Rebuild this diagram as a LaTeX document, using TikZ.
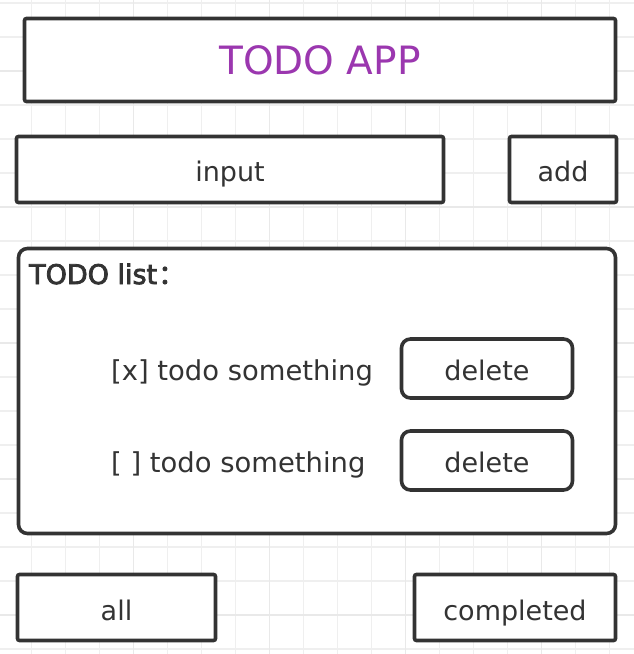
\documentclass[tikz,border=0pt]{standalone}
\usepackage{fontspec}
\setmainfont{DejaVu Sans}
\newfontfamily\medfont[FakeBold=3]{DejaVu Sans}
\newfontfamily\medcjk[FakeBold=3]{Noto Sans CJK SC}
\definecolor{linec}{HTML}{333333}
\definecolor{textc}{HTML}{333333}
\definecolor{titlec}{HTML}{9B37AF}
\definecolor{gridminor}{HTML}{EFEFEF}
\definecolor{gridmajor}{HTML}{E9E9E9}
\begin{document}
\begin{tikzpicture}[x=1pt,y=-1pt,
  box/.style={draw=linec, line width=3.6pt, rounded corners=2pt, inner sep=0pt,
    text depth=0pt, text height=23pt, text=textc, font=\fontsize{27}{27}\selectfont},
  roundbox/.style={box, rounded corners=9pt},
  label/.style={inner sep=0pt, text=textc, font=\fontsize{27}{27}\selectfont, anchor=base west},
  gminor/.style={draw=gridminor, line width=1.3pt},
  gmajor/.style={draw=gridmajor, line width=1.3pt}]
\useasboundingbox (0,0) rectangle (634,654);
\fill[white] (0,0) rectangle (634,654);
% grid
\foreach \k in {1,...,18} {\draw[gminor] ({-2.5+34*\k},0) -- ({-2.5+34*\k},654);}
\foreach \k in {0,...,19} {\draw[gminor] (0,{3+34*\k}) -- (634,{3+34*\k});}
\foreach \k in {4,8,12,16} {\draw[gmajor] ({-2.5+34*\k},0) -- ({-2.5+34*\k},654);}
\foreach \k in {2,6,10,14,18} {\draw[gmajor] (0,{3+34*\k}) -- (634,{3+34*\k});}
% boxes
\node[box, fill=white, minimum width=591pt, minimum height=83pt, text height=28pt,
  text=titlec, font=\fontsize{39}{39}\selectfont] (title) at (320,60) {TODO APP};
\node[box, fill=white, minimum width=427pt, minimum height=66pt] (input) at (230,169.5) {input};
\node[box, fill=white, minimum width=107pt, minimum height=66pt] (add) at (563,169.5) {add};
\node[roundbox, fill=white, minimum width=597pt, minimum height=285pt] (list) at (317,391) {};
\node[label, font=\fontsize{27}{27}\medfont] (listlabel) at (29,284) {TODO list\hspace{1pt}{\medcjk ：}};
\node[label, font=\fontsize{27.4}{27}\selectfont] (item1) at (111,380) {[x] todo something};
\node[roundbox, fill=white, minimum width=171pt, minimum height=59pt] (del1) at (487,368.5) {delete};
\node[label, font=\fontsize{27.4}{27}\selectfont] (item2) at (111,472) {[ ] todo something};
\node[roundbox, fill=white, minimum width=171pt, minimum height=59pt] (del2) at (487,460.5) {delete};
\node[box, fill=white, minimum width=198pt, minimum height=66pt, text height=25pt] (all) at (116.5,607.5) {all};
\node[box, fill=white, minimum width=201pt, minimum height=66pt, text height=25pt] (completed) at (515,607.5) {completed};
\end{tikzpicture}
\end{document}
